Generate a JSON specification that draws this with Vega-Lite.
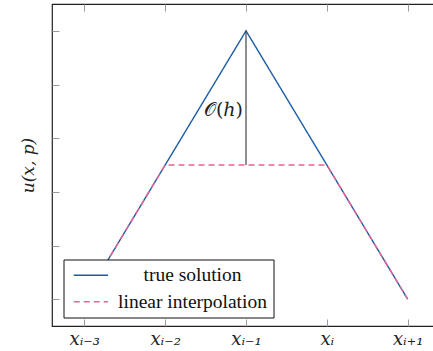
{
  "$schema": "https://vega.github.io/schema/vega-lite/v6.json",
  "width": 388,
  "height": 322,
  "autosize": {"type": "none"},
  "padding": {"left": 52, "top": 4, "right": 0, "bottom": 25},
  "config": {
    "view": {"stroke": "#222", "strokeWidth": 1.2},
    "font": "Liberation Serif",
    "axis": {"grid": false, "domain": false, "tickColor": "#9a9a9a", "tickWidth": 1, "tickSize": -7}
  },
  "datasets": {
    "curves": [
      {"x": 0, "y": 0, "series": "true solution"},
      {"x": 2, "y": 5, "series": "true solution"},
      {"x": 4, "y": 0, "series": "true solution"},
      {"x": 0, "y": 0, "series": "linear interpolation"},
      {"x": 1, "y": 2.5, "series": "linear interpolation"},
      {"x": 2, "y": 2.5, "series": "linear interpolation"},
      {"x": 3, "y": 2.5, "series": "linear interpolation"},
      {"x": 4, "y": 0, "series": "linear interpolation"}
    ],
    "err": [{"x": 2, "y": 2.5, "y2": 5, "label": "𝒪(ℎ)", "ly": 3.52}]
  },
  "resolve": {"axis": {"x": "independent", "y": "independent"}},
  "layer": [
    {
      "data": {"name": "curves"},
      "transform": [{"filter": "datum.series == 'true solution'"}],
      "mark": {"type": "line", "strokeWidth": 1.4},
      "encoding": {
        "x": {"field": "x", "type": "quantitative",
              "scale": {"domain": [-0.4, 4.4], "nice": false, "zero": false},
              "axis": {"orient": "bottom", "title": null, "values": [0, 1, 2, 3, 4],
                       "labelExpr": "['xᵢ₋₃','xᵢ₋₂','xᵢ₋₁','xᵢ','xᵢ₊₁'][datum.value]",
                       "labelFont": "DejaVu Serif", "labelFontStyle": "italic", "labelFontSize": 18, "labelColor": "#222", "labelPadding": 11}},
        "y": {"field": "y", "type": "quantitative",
              "scale": {"domain": [-0.5, 5.5], "nice": false, "zero": false},
              "axis": {"orient": "left", "values": [0, 1, 2, 3, 4, 5], "labels": false,
                       "title": "u(x, p)", "titleFont": "DejaVu Serif", "titleFontStyle": "italic",
                       "titleFontWeight": "normal", "titleFontSize": 17, "titleColor": "#222", "titlePadding": 14}},
        "color": {"field": "series", "type": "nominal",
                  "scale": {"domain": ["true solution", "linear interpolation"], "range": ["#1a5ca8", "#ec6190"]},
                  "legend": {"title": null, "orient": "none", "legendX": 11.5, "legendY": 255.5,
                             "strokeColor": "#111", "fillColor": "white", "padding": 6,
                             "symbolType": "M-0.92,0H4.8", "symbolSize": 144, "symbolStrokeWidth": 1.6,
                             "labelFont": "Liberation Serif", "labelFontSize": 19.5, "labelColor": "#111",
                             "labelAlign": "center", "labelOffset": 103.5, "rowPadding": 5.5, "cornerRadius": 0}},
        "strokeDash": {"field": "series", "type": "nominal",
                       "scale": {"domain": ["true solution", "linear interpolation"], "range": [[1, 0], [6, 4]]},
                       "legend": null}
      }
    },
    {
      "data": {"name": "curves"},
      "transform": [{"filter": "datum.series == 'linear interpolation'"}],
      "mark": {"type": "line", "strokeWidth": 1.4},
      "encoding": {
        "x": {"field": "x", "type": "quantitative",
              "axis": {"orient": "top", "title": null, "values": [0, 1, 2, 3, 4], "labels": false}},
        "y": {"field": "y", "type": "quantitative",
              "axis": {"orient": "right", "title": null, "values": [0, 1, 2, 3, 4, 5], "labels": false}},
        "color": {"field": "series", "type": "nominal"},
        "strokeDash": {"field": "series", "type": "nominal"}
      }
    },
    {
      "data": {"name": "err"},
      "mark": {"type": "rule", "color": "#444", "strokeWidth": 1.2},
      "encoding": {
        "x": {"field": "x", "type": "quantitative", "axis": null},
        "y": {"field": "y", "type": "quantitative", "axis": null},
        "y2": {"field": "y2"}
      }
    },
    {
      "data": {"name": "err"},
      "mark": {"type": "text", "align": "right", "baseline": "middle", "dx": -3, "fontSize": 19, "font": "DejaVu Serif", "color": "#222"},
      "encoding": {
        "x": {"field": "x", "type": "quantitative", "axis": null},
        "y": {"field": "ly", "type": "quantitative", "axis": null},
        "text": {"field": "label"}
      }
    }
  ]
}
